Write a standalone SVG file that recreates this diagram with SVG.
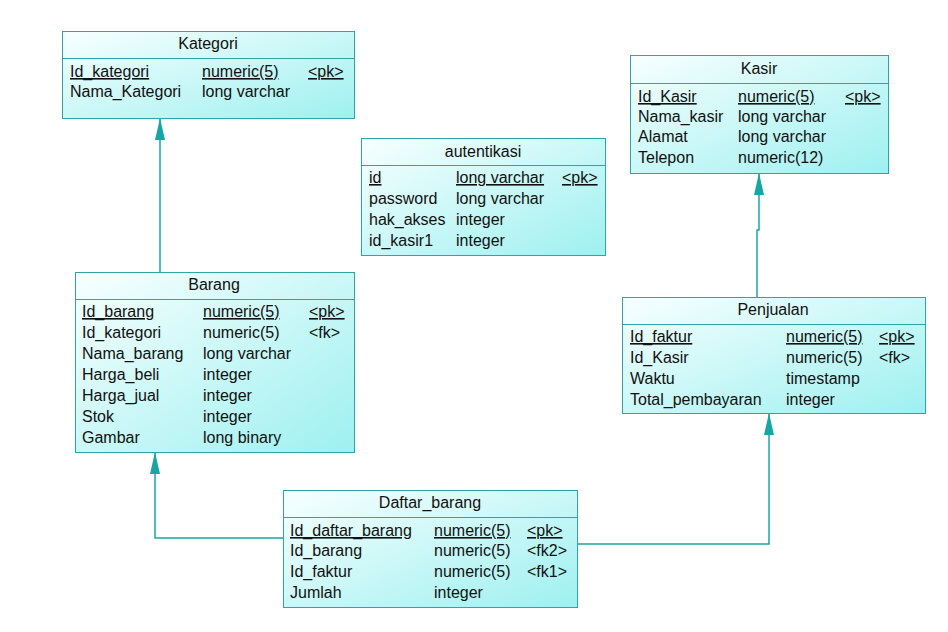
<svg xmlns="http://www.w3.org/2000/svg" width="948" height="632" viewBox="0 0 948 632">
<defs>
<linearGradient id="g" x1="0" y1="0" x2="1" y2="1">
<stop offset="0" stop-color="#f8ffff"/>
<stop offset="1" stop-color="#9ef0f0"/>
</linearGradient>
<marker id="ah" viewBox="0 0 22 12" refX="22" refY="6" markerWidth="22" markerHeight="12" markerUnits="userSpaceOnUse" orient="auto">
<path d="M0,1 L22,6 L0,11 Z" fill="#1aa5a5"/>
</marker>
</defs>
<style>
.box{fill:url(#g);stroke:#2ea6a6;stroke-width:1}
.sep{stroke:#2ea6a6;stroke-width:1}
text{font-family:"Liberation Sans",Arial,sans-serif;font-size:16px;fill:#111}
.t{text-anchor:middle}
.u{text-decoration:underline}
.c{fill:none;stroke:#1aa5a5;stroke-width:1.5}
</style>
<rect width="948" height="632" fill="#fff"/>
<g id="connectors">
<path class="c" d="M160,272 V118" marker-end="url(#ah)"/>
<path class="c" d="M757,297 V230 H759 V173" marker-end="url(#ah)"/>
<path class="c" d="M283,538 H155 V452" marker-end="url(#ah)"/>
<path class="c" d="M577,544 H769 V413" marker-end="url(#ah)"/>
</g>
<g id="Kategori">
<rect class="box" x="62.5" y="31.5" width="292" height="87"/>
<line class="sep" x1="62.5" y1="58.5" x2="354.5" y2="58.5"/>
<text class="t" x="208" y="49">Kategori</text>
<text class="u" x="70" y="77">Id_kategori</text><text class="u" x="202" y="77">numeric(5)</text><text class="u" x="308" y="77">&lt;pk&gt;</text>
<text x="70" y="97">Nama_Kategori</text><text x="202" y="97">long varchar</text>
</g>
<g id="autentikasi">
<rect class="box" x="361.5" y="138.5" width="244" height="117"/>
<line class="sep" x1="361.5" y1="165.5" x2="605.5" y2="165.5"/>
<text class="t" x="483" y="157">autentikasi</text>
<text class="u" x="369" y="183">id</text><text class="u" x="456" y="183">long varchar</text><text class="u" x="562" y="183">&lt;pk&gt;</text>
<text x="369" y="204">password</text><text x="456" y="204">long varchar</text>
<text x="369" y="225">hak_akses</text><text x="456" y="225">integer</text>
<text x="369" y="246">id_kasir1</text><text x="456" y="246">integer</text>
</g>
<g id="Kasir">
<rect class="box" x="630.5" y="55.5" width="258" height="118"/>
<line class="sep" x1="630.5" y1="83.5" x2="888.5" y2="83.5"/>
<text class="t" x="759" y="74">Kasir</text>
<text class="u" x="638" y="102">Id_Kasir</text><text class="u" x="738" y="102">numeric(5)</text><text class="u" x="845" y="102">&lt;pk&gt;</text>
<text x="638" y="122">Nama_kasir</text><text x="738" y="122">long varchar</text>
<text x="638" y="142">Alamat</text><text x="738" y="142">long varchar</text>
<text x="638" y="163">Telepon</text><text x="738" y="163">numeric(12)</text>
</g>
<g id="Barang">
<rect class="box" x="75.5" y="272.5" width="279" height="180"/>
<line class="sep" x1="75.5" y1="299.5" x2="354.5" y2="299.5"/>
<text class="t" x="214" y="290">Barang</text>
<text class="u" x="82" y="317">Id_barang</text><text class="u" x="203" y="317">numeric(5)</text><text class="u" x="309" y="317">&lt;pk&gt;</text>
<text x="82" y="338">Id_kategori</text><text x="203" y="338">numeric(5)</text><text x="309" y="338">&lt;fk&gt;</text>
<text x="82" y="359">Nama_barang</text><text x="203" y="359">long varchar</text>
<text x="82" y="380">Harga_beli</text><text x="203" y="380">integer</text>
<text x="82" y="401">Harga_jual</text><text x="203" y="401">integer</text>
<text x="82" y="422">Stok</text><text x="203" y="422">integer</text>
<text x="82" y="443">Gambar</text><text x="203" y="443">long binary</text>
</g>
<g id="Penjualan">
<rect class="box" x="622.5" y="297.5" width="303" height="116"/>
<line class="sep" x1="622.5" y1="324.5" x2="925.5" y2="324.5"/>
<text class="t" x="773" y="315">Penjualan</text>
<text class="u" x="630" y="342">Id_faktur</text><text class="u" x="786" y="342">numeric(5)</text><text class="u" x="879" y="342">&lt;pk&gt;</text>
<text x="630" y="363">Id_Kasir</text><text x="786" y="363">numeric(5)</text><text x="879" y="363">&lt;fk&gt;</text>
<text x="630" y="384">Waktu</text><text x="786" y="384">timestamp</text>
<text x="630" y="405">Total_pembayaran</text><text x="786" y="405">integer</text>
</g>
<g id="Daftar_barang">
<rect class="box" x="283.5" y="490.5" width="294" height="117"/>
<line class="sep" x1="283.5" y1="517.5" x2="577.5" y2="517.5"/>
<text class="t" x="430" y="508">Daftar_barang</text>
<text class="u" x="290" y="536">Id_daftar_barang</text><text class="u" x="434" y="536">numeric(5)</text><text class="u" x="527" y="536">&lt;pk&gt;</text>
<text x="290" y="556">Id_barang</text><text x="434" y="556">numeric(5)</text><text x="527" y="556">&lt;fk2&gt;</text>
<text x="290" y="577">Id_faktur</text><text x="434" y="577">numeric(5)</text><text x="527" y="577">&lt;fk1&gt;</text>
<text x="290" y="598">Jumlah</text><text x="434" y="598">integer</text>
</g>
</svg>
